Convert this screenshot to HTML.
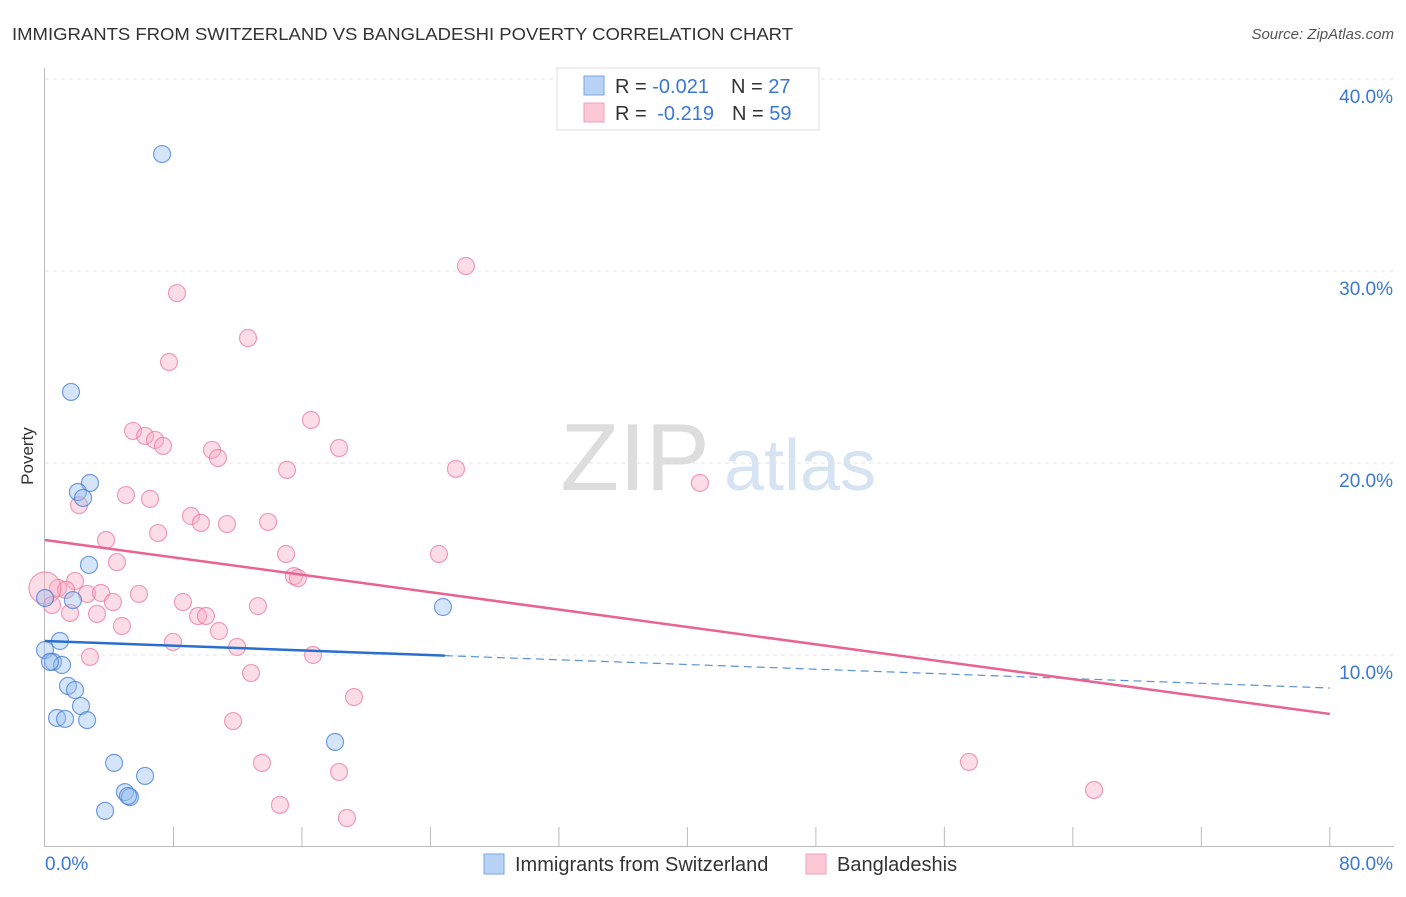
<!DOCTYPE html>
<html><head><meta charset="utf-8"><style>
body{margin:0;background:#fff;font-family:"Liberation Sans",sans-serif}
svg text{font-family:"Liberation Sans",sans-serif}
</style></head><body>
<svg id="chart" width="1406" height="892" xmlns="http://www.w3.org/2000/svg">
<text x="12" y="40" font-size="17.5" fill="#333" textLength="781" lengthAdjust="spacingAndGlyphs">IMMIGRANTS FROM SWITZERLAND VS BANGLADESHI POVERTY CORRELATION CHART</text>
<text x="1394" y="39" font-size="15" fill="#555" font-style="italic" text-anchor="end">Source: ZipAtlas.com</text>
<text x="33" y="456" font-size="17" fill="#333" text-anchor="middle" transform="rotate(-90 33 456)">Poverty</text>
<g><text x="635" y="490" font-size="96" fill="#ddd" font-family="Liberation Serif" text-anchor="middle">ZIP</text><text x="800" y="490" font-size="72" fill="#d5e3f3" text-anchor="middle">atlas</text></g>
<g id="grid"></g><g id="axes"></g><g id="pts"></g><g id="trend"></g>
<g>
<rect x="557" y="68" width="262" height="62" fill="#fff" stroke="#ddd"/>
<rect x="584" y="76" width="20" height="19" fill="#b8d3f5" stroke="#7aa7e0"/>
<rect x="584" y="103" width="20" height="19" fill="#fcc8d6" stroke="#f0a0b8"/>
<text x="615" y="93" font-size="20" fill="#333">R = <tspan fill="#3b78d4">-0.021</tspan><tspan dx="22">N = </tspan><tspan fill="#3b78d4">27</tspan></text>
<text x="615" y="120" font-size="20" fill="#333">R = <tspan fill="#3b78d4" dx="5">-0.219</tspan><tspan dx="18">N = </tspan><tspan fill="#3b78d4">59</tspan></text>
</g>
<g>
<rect x="484" y="854" width="20" height="20" fill="#b8d3f5" stroke="#7aa7e0"/>
<text x="515" y="871" font-size="20" fill="#333">Immigrants from Switzerland</text>
<rect x="806" y="854" width="20" height="20" fill="#fcc8d6" stroke="#f0a0b8"/>
<text x="837" y="871" font-size="20" fill="#333">Bangladeshis</text>
</g>
</svg>
<script>
const blueX=[7.29,1.62,2.80,2.05,2.37,2.74,1.74,0,0.93,0,0.5,1.06,1.43,1.87,2.24,0.75,1.25,2.62,4.30,6.23,4.98,5.29,3.74,24.78,18.06,0.31,5.17];
const blueY=[36.09,23.70,18.96,18.49,18.18,14.69,12.86,12.97,10.73,10.26,9.64,9.48,8.39,8.18,7.34,6.72,6.67,6.61,4.38,3.70,2.86,2.60,1.88,12.50,5.47,9.64,2.66];
const pinkX=[26.21,8.22,12.64,7.72,16.56,5.48,6.23,6.85,7.35,18.31,10.40,10.77,15.07,25.59,40.78,5.04,6.54,2.12,9.09,9.71,11.33,13.89,7.04,3.80,4.48,15.01,24.53,15.50,15.75,1.87,0.81,1.31,0,2.62,3.49,5.85,4.23,8.59,0.44,1.56,3.24,9.53,10.02,13.26,4.79,10.83,7.97,11.96,16.69,2.80,12.83,19.24,11.71,13.51,18.31,57.53,65.32,14.63,18.80];
const pinkY=[30.26,28.85,26.51,25.26,22.24,21.67,21.41,21.20,20.89,20.78,20.68,20.26,19.64,19.69,18.96,18.33,18.13,17.81,17.24,16.88,16.82,16.93,16.35,15.99,14.84,15.26,15.26,14.11,14.01,13.85,13.49,13.39,13.49,13.18,13.23,13.18,12.76,12.76,12.60,12.19,12.14,12.03,12.03,12.55,11.51,11.25,10.68,10.42,10.00,9.90,9.06,7.81,6.56,4.38,3.91,4.43,2.97,2.19,1.51];
const yTicks=[10,20,30,40];
const yTickLabels=["10.0%","20.0%","30.0%","40.0%"];
const blueTrend=[10.73,8.28], blueSolidEnd=24.9;
const pinkTrend=[15.99,6.93];
const NS='http://www.w3.org/2000/svg';
const X=v=>45+v*16.06, Y=v=>847-v*19.2;
function mk(p,t,a){const e=document.createElementNS(NS,t);for(const k in a)e.setAttribute(k,a[k]);document.getElementById(p).appendChild(e);return e;}
yTicks.forEach((t,i)=>{
 const l=mk('grid','line',{x1:45,x2:1394,y1:Y(t),y2:Y(t),stroke:'#e3e3e3','stroke-dasharray':'4,4'});
 
 
 const tx=mk('grid','text',{x:1393,y:Y(t)+24,'font-size':19,fill:'#3b78d4','text-anchor':'end'});tx.textContent=yTickLabels[i];
 
 
});
mk('axes','line',{x1:44.5,x2:44.5,y1:68,y2:846,stroke:'#bbb'});
mk('axes','line',{x1:44,x2:1394,y1:846.5,y2:846.5,stroke:'#bbb'});
for(let i=1;i<=10;i++){const l=mk('axes','line',{x1:X(i*8),x2:X(i*8),y1:827,y2:846,stroke:'#bbb'});
 
 }
let t1=mk('axes','text',{x:45,y:870,'font-size':19,fill:'#3b78d4'});t1.textContent='0.0%';


let t2=mk('axes','text',{x:1393,y:870,'font-size':19,fill:'#3b78d4','text-anchor':'end'});t2.textContent='80.0%';


function pts(xs,ys,fill,stroke,name,bigOk){xs.forEach((x,i)=>{const big=bigOk&&(x===0&&ys[i]>12);
 const c=mk('pts','circle',{cx:X(x),cy:Y(ys[i]),r:big?16:8.5,fill:fill,stroke:stroke,'stroke-width':1.2});
 
 });}
pts(pinkX,pinkY,'rgba(248,170,195,0.4)','rgba(232,120,155,0.7)','bangladeshi-point',true);
pts(blueX,blueY,'rgba(150,190,240,0.4)','rgba(60,120,210,0.7)','swiss-point',false);
const bAt=x=>blueTrend[0]+(blueTrend[1]-blueTrend[0])*x/80;
let l1=mk('trend','line',{x1:X(0),y1:Y(bAt(0)),x2:X(blueSolidEnd),y2:Y(bAt(blueSolidEnd)),stroke:'#2a6fd0','stroke-width':2.5});


let l2=mk('trend','line',{x1:X(blueSolidEnd),y1:Y(bAt(blueSolidEnd)),x2:X(80),y2:Y(bAt(80)),stroke:'#5a90d8','stroke-width':1.2,'stroke-dasharray':'8,5'});


let l3=mk('trend','line',{x1:X(0),y1:Y(pinkTrend[0]),x2:X(80),y2:Y(pinkTrend[1]),stroke:'#e8638f','stroke-width':2.5});


</script>
</body></html>
